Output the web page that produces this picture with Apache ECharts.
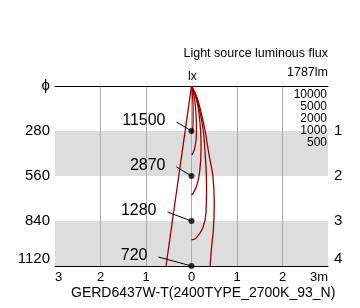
<!DOCTYPE html>
<html><head><meta charset="utf-8">
<script src="https://cdn.jsdelivr.net/npm/echarts@6/dist/echarts.min.js"></script>
<style>html,body{margin:0;padding:0;background:#fff}#c{width:360px;height:308px}</style>
</head><body><div id="c"></div>
<script>
// ---- data ----
const distances = [1, 2, 3, 4];
const diameters = [280, 560, 840, 1120];
const centerLux = [11500, 2870, 1280, 720];
const xTickLabels = ['3', '2', '1', '0', '1', '2', '3m'];
const isoluxLevels = [10000, 5000, 2000, 1000, 500];
// isolux half-contours: [horizontal m, depth m]
const iso10000 = [[0,0],[0.02,0.2],[0.035,0.5],[0.035,0.8],[0.02,1.0],[0,1.07]];
const iso5000  = [[0,0],[0.05,0.2],[0.09,0.5],[0.11,0.9],[0.1,1.2],[0.06,1.42],[0.01,1.53]];
const iso2000  = [[0,0],[0.08,0.2],[0.15,0.5],[0.2,1.0],[0.21,1.4],[0.18,1.9],[0.12,2.2],[0.04,2.38],[0,2.42]];
const iso1000  = [[0,0],[0.09,0.2],[0.17,0.5],[0.26,1.0],[0.3,1.5],[0.33,2.2],[0.32,2.8],[0.25,3.15],[0.1,3.38],[0,3.42]];
const iso500   = [[0,0],[0.1,0.2],[0.19,0.5],[0.3,1.0],[0.38,1.5],[0.47,2.0],[0.5,2.6],[0.48,3.2],[0.44,3.6],[0.41,4.0]];
const beamEdge = [[0,0],[-0.56,4]];
const fluxText = '1787lm';
const fluxTitle = 'Light source luminous flux';
const fixtureName = 'GERD6437W-T(2400TYPE_2700K_93_N)';

// ---- layout ----
const FONT = 'Liberation Sans';
const leaderDx = [-15, -15, -24, -33];
const chart = echarts.init(document.getElementById('c'), null, {renderer: 'canvas'});
const red = '#980000';
const contourSeries = [iso10000, iso5000, iso2000, iso1000, iso500, beamEdge].map((d, i) => ({
  type: 'line', data: d, smooth: i === 5 ? false : 0.35, showSymbol: false, silent: true,
  lineStyle: {color: red, width: 1.3}, z: 3
}));

chart.setOption({
  animation: false,
  textStyle: {fontFamily: FONT},
  grid: {left: 55, right: 32, top: 86, bottom: 42},
  xAxis: [{
    type: 'value', min: -3, max: 3, interval: 1,
    axisLine: {onZero: false, lineStyle: {color: '#000', width: 1}},
    axisTick: {show: false},
    axisLabel: {formatter: v => xTickLabels[Math.round(v) + 3], color: '#000', fontSize: 13, margin: 5,
      alignMinLabel: 'left', alignMaxLabel: 'right', fontFamily: FONT},
    splitLine: {show: true, showMinLine: false, showMaxLine: false, lineStyle: {color: '#ababab'}}
  }, {
    type: 'value', position: 'top', min: -3, max: 3, interval: 1,
    axisLine: {show: true, onZero: false, lineStyle: {color: '#000', width: 1}},
    axisTick: {show: false}, axisLabel: {show: false}, splitLine: {show: false}
  }],
  yAxis: [{
    type: 'value', inverse: true, min: 0, max: 4, interval: 1, position: 'left',
    axisLine: {show: false}, axisTick: {show: false},
    axisLabel: {formatter: v => v === 0 ? 'ϕ' : String(diameters[v - 1]), color: '#000', fontSize: 15,
      margin: 5, fontFamily: FONT, verticalAlignMaxLabel: 'bottom', padding: [5, 0, 0, 0]},
    splitLine: {show: false},
    splitArea: {show: true, areaStyle: {color: ['rgba(0,0,0,0)', '#dddddd']}}
  }, {
    type: 'value', inverse: true, min: 0, max: 4, interval: 1, position: 'right',
    axisLine: {show: false}, axisTick: {show: false},
    axisLabel: {formatter: v => v === 0 ? '' : String(distances[v - 1]), color: '#000', fontSize: 15,
      margin: 6, fontFamily: FONT, verticalAlignMaxLabel: 'bottom', padding: [5, 0, 0, 0]},
    splitLine: {show: false}
  }],
  graphic: [
    {type: 'text', right: 32, top: 47, style: {text: fluxTitle, font: '12.5px ' + FONT, fill: '#000'}},
    {type: 'text', right: 32, top: 66, style: {text: fluxText, font: '12.5px ' + FONT, fill: '#000'}},
    {type: 'text', left: 188, top: 71, style: {text: 'lx', font: '12px ' + FONT, fill: '#000'}},
    {type: 'text', left: 71, top: 286, style: {text: fixtureName, font: '14px ' + FONT, fill: '#000'}},
    ...isoluxLevels.map((v, i) => ({type: 'text', right: 33, top: 89 + 12 * i,
      style: {text: String(v), font: '12px ' + FONT, fill: '#000'}, z: 10}))
  ],
  series: [
    ...contourSeries,
    {type: 'scatter', data: distances.map(d => [0, d]), symbol: 'circle', symbolSize: 6,
      itemStyle: {color: '#000'}, z: 5, silent: true},
    {type: 'custom', data: distances.map((d, i) => [0, d, centerLux[i]]), z: 6, silent: true,
      renderItem: (params, api) => {
        const p = api.coord([0, api.value(1)]);
        const dx = leaderDx[params.dataIndex];
        return {type: 'group', children: [
          {type: 'line', shape: {x1: p[0] + dx, y1: p[1] - 9, x2: p[0], y2: p[1]}, style: {stroke: '#000', lineWidth: 1}},
          {type: 'text', x: p[0] + dx - 11, y: p[1] - 10,
            style: {text: String(api.value(2)), font: '16px ' + FONT, fill: '#000', align: 'right', verticalAlign: 'middle'}}
        ]};
      }}
  ]
});
</script></body></html>
